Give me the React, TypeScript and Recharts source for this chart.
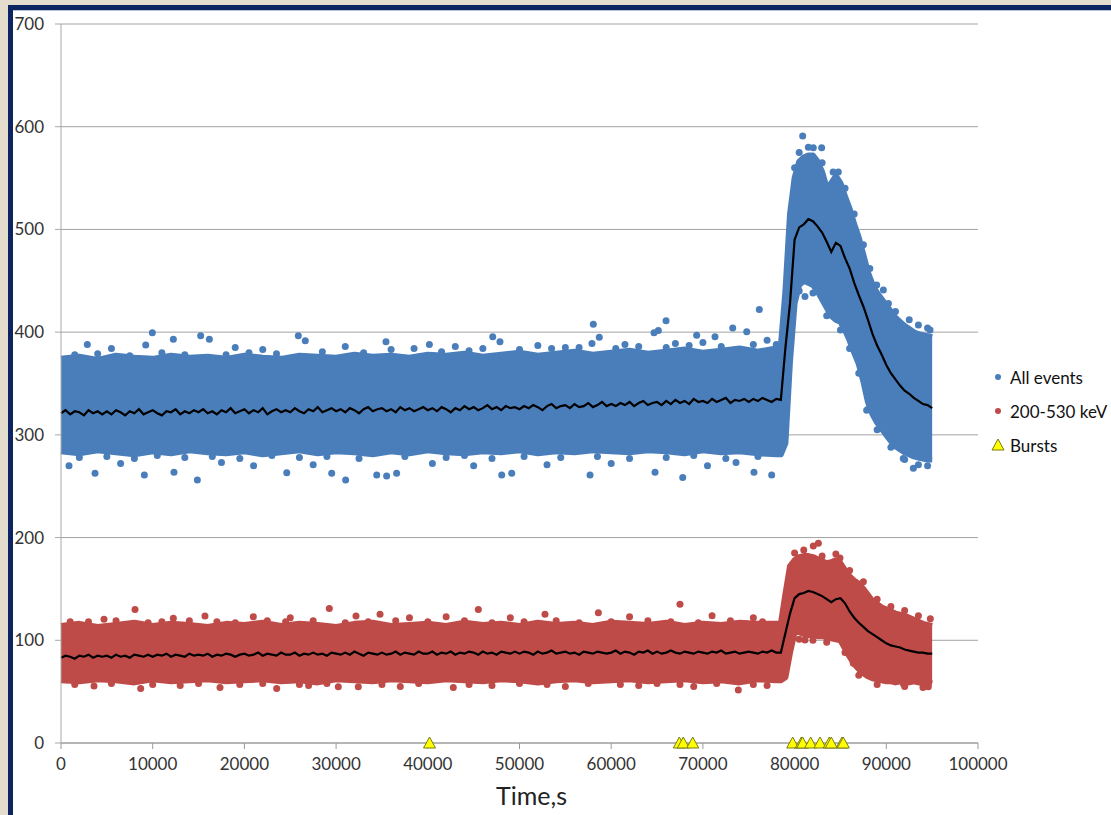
import {
  Area,
  CartesianGrid,
  ComposedChart,
  Line,
  Scatter,
  XAxis,
  YAxis,
} from "recharts"

// axis ticks
const xTicks = [0, 10000, 20000, 30000, 40000, 50000, 60000, 70000, 80000, 90000, 100000]
const yTicks = [0, 100, 200, 300, 400, 500, 600, 700]

// envelope sample times (s): 2000 s steps before the event, 500 s through it
const bandTimes = [
  0, 2000, 4000, 6000, 8000, 10000, 12000, 14000, 16000, 18000,
  20000, 22000, 24000, 26000, 28000, 30000, 32000, 34000, 36000, 38000,
  40000, 42000, 44000, 46000, 48000, 50000, 52000, 54000, 56000, 58000,
  60000, 62000, 64000, 66000, 68000, 70000, 72000, 74000, 76000, 78000,
  78500, 79000, 79500, 80000, 80500, 81000, 81500, 82000, 82500, 83000,
  83500, 84000, 84500, 85000, 85500, 86000, 86500, 87000, 87500, 88000,
  88500, 89000, 89500, 90000, 90500, 91000, 91500, 92000, 92500, 93000,
  93500, 94000, 94500, 95000,
]

// All events: bulk of the point cloud
const allHigh = [
  374, 376, 373, 377, 375, 374, 377, 375, 376, 374,
  377, 375, 374, 377, 376, 375, 378, 376, 377, 375,
  378, 377, 379, 376, 378, 380, 377, 379, 381, 378,
  380, 382, 379, 381, 383, 380, 382, 384, 381, 384,
  386, 440, 515, 550, 566, 570, 572, 572, 566, 556,
  540, 545, 552, 545, 532, 520, 505, 492, 475, 458,
  446, 438, 432, 426, 420, 414, 410, 406, 403, 400,
  398, 397, 396, 395,
]
const allLow = [
  284, 282, 285, 283, 281, 284, 282, 285, 283, 282,
  284, 281, 283, 285, 282, 284, 283, 281, 284, 282,
  285, 283, 282, 284, 283, 285, 282, 284, 283, 285,
  284, 283, 285, 284, 282, 285, 283, 284, 282, 281,
  281, 292, 372, 428, 446, 450, 448, 446, 440, 432,
  424, 416, 412, 410, 402, 392, 380, 369, 352, 332,
  320, 312, 306, 300, 294, 289, 286, 283, 281, 279,
  278, 277, 276, 276,
]

// 200-530 keV: bulk of the point cloud
const keVHigh = [
  114, 116, 113, 115, 117, 114, 116, 115, 113, 116,
  115, 117, 114, 116, 115, 113, 116, 117, 114, 115,
  116, 114, 117, 115, 116, 114, 117, 115, 116, 114,
  117, 116, 115, 117, 114, 116, 115, 117, 116, 116,
  116, 145, 172, 178, 181, 182, 182, 181, 179, 177,
  175, 176, 178, 175, 168, 162, 158, 155, 150, 144,
  138, 135, 132, 130, 128, 126, 125, 124, 122, 120,
  118, 116, 115, 114,
]
const keVLow = [
  61, 60, 62, 61, 59, 62, 60, 61, 62, 60,
  61, 62, 60, 61, 59, 62, 61, 60, 62, 61,
  60, 62, 61, 60, 62, 61, 59, 61, 62, 60,
  61, 62, 60, 61, 62, 60, 61, 59, 62, 61,
  61, 64, 88, 108, 108, 106, 105, 105, 104, 104,
  103, 102, 101, 100, 92, 84, 77, 72, 68, 65,
  63, 62, 61, 60, 60, 59, 60, 59, 59, 60,
  59, 58, 59, 58,
]

// running means, one value every 500 s from 0 to 95000 s
const MEAN_STEP = 500
const allMean = [
  321, 324, 320, 323, 322, 319, 324, 321, 323, 320,
  323, 320, 324, 322, 319, 323, 321, 325, 320, 322,
  324, 321, 319, 323, 322, 325, 320, 323, 321, 324,
  322, 325, 321, 323, 320, 324, 322, 326, 321, 323,
  325, 321, 324, 322, 326, 320, 323, 325, 322, 324,
  322, 326, 323, 321, 325, 323, 327, 322, 324, 326,
  323, 325, 322, 326, 324, 321, 325, 327, 323, 325,
  326, 323, 325, 322, 327, 324, 326, 323, 325, 327,
  324, 326, 323, 327, 325, 322, 326, 324, 328, 325,
  327, 324, 326, 329, 325, 327, 324, 328, 326, 327,
  325, 328, 326, 329, 327, 324, 328, 330, 326, 328,
  329, 326, 330, 327, 328, 331, 327, 329, 332, 328,
  330, 328, 331, 329, 332, 328, 331, 333, 329, 331,
  332, 329, 333, 330, 334, 331, 333, 330, 335, 332,
  333, 331, 335, 332, 334, 336, 331, 334, 333, 335,
  332, 335, 333, 336, 334, 332, 335,
  334, 385, 428, 490, 502, 505, 510, 508, 503, 497,
  488, 478, 487, 484, 472, 462, 448, 436, 425, 412,
  398, 387, 378, 368, 360, 354, 348, 343, 340, 336,
  333, 330, 329, 326,
]
const keVMean = [
  83, 85, 84, 82, 85, 84, 86, 83, 85, 84,
  85, 83, 86, 84, 85, 83, 86, 85, 84, 86,
  84, 86, 85, 87, 84, 86, 85, 84, 87, 85,
  86, 85, 87, 84, 86, 85, 87, 86, 84, 86,
  87, 85, 86, 88, 85, 87, 86, 85, 88, 86,
  86, 88, 85, 87, 86, 88, 86, 87, 85, 88,
  87, 86, 88, 86, 89, 87, 85, 88, 87, 86,
  88, 86, 87, 89, 86, 88, 87, 86, 89, 87,
  87, 89, 86, 88, 87, 89, 86, 88, 87, 89,
  88, 86, 89, 87, 88, 86, 89, 88, 87, 89,
  87, 89, 88, 86, 89, 87, 88, 90, 87, 88,
  89, 87, 88, 86, 89, 88, 87, 89, 88, 87,
  88, 90, 87, 89, 88, 86, 89, 88, 90, 87,
  89, 87, 88, 90, 88, 87, 89, 88, 87, 89,
  88, 87, 89, 88, 90, 87, 88, 89, 87, 88,
  89, 88, 87, 89, 88, 90, 88,
  88, 107, 126, 141, 145, 146, 148, 147, 145, 143,
  140, 137, 140, 141, 136, 128, 122, 117, 113, 109,
  106, 103, 100, 97, 95, 94, 93, 91, 90, 89,
  88, 88, 87, 87,
]

// stray points around the clouds (time s, counts)
const allOutT = [
  2870, 9240, 9960, 12250, 15230, 16180, 25880, 26640, 35440, 40170,
  47080, 47870, 57900, 58050, 58700, 64670, 65140, 65980, 69320, 71320,
  73250, 74780, 76150, 5500, 19000, 22000, 31000, 38500, 43000, 52000,
  55000, 61500, 67000, 70000, 77000,
  1500, 4000, 7500, 11000, 13500, 18000, 20500, 23500, 28500, 33000,
  36000, 41500, 44500, 46000, 50000, 53500, 56500, 60500, 63000, 66000,
  68500, 72000, 75500, 78000,
  870, 3710, 9090, 12320, 14870, 24620, 29520, 31040, 34430, 35510,
  36600, 48060, 49150, 57690, 64780, 67800, 73610, 75570, 77500, 6500,
  17500, 21000, 27500, 40500, 45000, 53000, 60000, 70500,
  2000, 5000, 8000, 10500, 13500, 16500, 19500, 23000, 26000, 29000,
  32500, 37500, 42000, 44000, 47000, 50500, 54500, 58500, 62000, 66000,
  69000, 72500, 76000,
  80880, 82040, 82950, 84770, 81130, 87860, 91850, 92950, 94770, 88950,
  89680, 90230,
  80000, 80500, 81500, 83000, 84200, 85500, 86500, 87500, 88200, 91000,
  92500, 93500, 94500,
  80500, 82000, 83500, 85000, 86000, 87000, 88000, 89000, 90500, 92000,
  93500, 94500,
]
const allOutV = [
  388, 387.5, 399.5, 393, 396.6, 393, 396.6, 391.7, 390.7, 388,
  395.6, 390.7, 389, 407.6, 395, 399.5, 401.5, 411, 397, 395.6,
  404, 400.5, 422, 384, 385, 383, 386, 384, 386, 387,
  385, 388, 389, 390, 392,
  378, 379, 377, 380, 378, 378, 380, 379, 381, 380,
  383, 381, 382, 384, 383, 384, 385, 384, 386, 385,
  387, 386, 388, 388,
  270, 262.6, 261, 263.5, 256, 263, 262.6, 256, 261, 260,
  262.6, 261, 262.6, 261, 263.5, 258.6, 273, 263.5, 261, 272,
  273, 270, 271, 272, 270, 271, 272, 270,
  278, 279, 277, 280, 278, 279, 277, 280, 278, 279,
  277, 279, 278, 280, 277, 279, 278, 279, 277, 278,
  280, 277, 279,
  591, 579.6, 579.6, 556, 434.6, 324, 277, 267.5, 402, 446,
  441, 428,
  560, 575, 580, 565, 556, 540, 515, 485, 462, 420,
  412, 407, 404,
  440, 438, 416, 402, 384, 360, 325, 305, 288, 276,
  271, 270,
]
const keVOutT = [
  4690, 8070, 12250, 15700, 20970, 29260, 32170, 34790, 45510, 52780,
  58600, 67500, 25000, 38000, 42000, 49000, 62000, 71000, 75500,
  1000, 3000, 6000, 9500, 11000, 14000, 17000, 19000, 22500, 24500,
  27500, 31000, 33500, 36500, 40000, 44000, 47000, 50500, 54000, 56500,
  60000, 64000, 66500, 69500, 73000, 76500,
  3600, 8690, 17340, 23520, 30240, 32420, 42780, 73860, 13000, 27000,
  37000, 47000, 55000, 63000, 69000, 77000,
  1500, 5500, 10000, 15000, 19500, 22000, 26000, 29000, 35000, 39000,
  44500, 50000, 53000, 57500, 61000, 65000, 67500, 71500, 75500,
  82040, 82590, 84950, 81130, 86400, 91850, 94580,
  80000, 81000, 83000, 84500, 86000, 87500, 89000, 90500, 92000, 93500,
  94800,
  80500, 82000, 83500, 85500, 87000, 89000, 92000, 94000,
]
const keVOutV = [
  120.4, 130, 121.4, 123.7, 123, 131, 123.7, 125.3, 130, 125.3,
  126.9, 135, 122, 122, 123, 122, 123, 124, 122,
  118, 118, 119, 117, 118, 119, 118, 117, 119, 118,
  119, 117, 118, 119, 118, 119, 117, 118, 119, 117,
  118, 119, 118, 117, 119, 118,
  55.5, 53, 54, 53, 54.8, 54.8, 54, 51.6, 56, 56,
  55, 56, 55, 56, 55, 56,
  57, 58, 57, 58, 57, 58, 57, 58, 57, 58,
  57, 58, 57, 58, 57, 58, 57, 58, 57,
  191.8, 194.4, 180, 100.3, 77.6, 58, 54.8,
  185, 188, 182, 184, 168, 157, 140, 133, 129, 124,
  121,
  101, 100, 98, 88, 66, 57, 55, 54,
]

// burst trigger times (s), drawn on the zero line
const burstTimes = [
  40190, 67430, 67860, 68890, 79790, 80730, 80880, 81750, 82770, 83780,
  84000, 85170, 85310,
]

const BLUE = "#4a7ebb"
const RED = "#be4b48"
const GRID = "#a3a3a3"
const FONT = "Lato, 'Open Sans', sans-serif"

const dot = (color: string) => (p: any) =>
  <circle cx={p.cx} cy={p.cy} r={3.5} fill={color} />

const triangle = (p: any) => (
  <path
    d={`M${p.cx},${p.cy - 6} L${p.cx + 6},${p.cy + 5} L${p.cx - 6},${p.cy + 5} Z`}
    fill="#ffff00"
    stroke="#7a7a14"
    strokeWidth={1}
  />
)

const legendItems = [
  { label: "All events", kind: "dot", color: BLUE },
  { label: "200-530 keV", kind: "dot", color: RED },
  { label: "Bursts", kind: "tri", color: "#ffff00" },
]

export default function App() {
  const allBand = bandTimes.map((t, i) => ({ t, range: [allLow[i], allHigh[i]] }))
  const keVBand = bandTimes.map((t, i) => ({ t, range: [keVLow[i], keVHigh[i]] }))
  const allLine = allMean.map((v, i) => ({ t: i * MEAN_STEP, v }))
  const keVLine = keVMean.map((v, i) => ({ t: i * MEAN_STEP, v }))
  const allOut = allOutT.map((t, i) => ({ t, v: allOutV[i] }))
  const keVOut = keVOutT.map((t, i) => ({ t, v: keVOutV[i] }))
  const bursts = burstTimes.map((t) => ({ t, v: 0 }))

  return (
    <div
      style={{
        position: "absolute",
        left: 0,
        top: 0,
        width: 1111,
        height: 815,
        overflow: "hidden",
        background: "#e4dccd",
        fontFamily: FONT,
      }}
    >
      {/* slide frame */}
      <div
        style={{
          position: "absolute",
          left: 8,
          top: 5,
          right: 0,
          bottom: 0,
          background: "#ffffff",
          borderLeft: "5px solid #0c2462",
          borderTop: "5px solid #0c2462",
        }}
      />
      <div style={{ position: "absolute", left: 13, top: 10, right: 0, height: 1, background: "#b9c3d6" }} />

      <div style={{ position: "absolute", left: 13, top: 10 }}>
        <ComposedChart
          width={1098}
          height={805}
          margin={{ top: 14, right: 133, bottom: 12, left: 0 }}
        >
          <CartesianGrid horizontal vertical={false} stroke={GRID} strokeWidth={1} />
          <XAxis
            dataKey="t"
            type="number"
            domain={[0, 100000]}
            ticks={xTicks}
            interval={0}
            height={60}
            stroke="#9a9a9a"
            tickSize={6}
            tickMargin={9}
            tick={{ fill: "#333333", fontSize: 17, fontFamily: FONT }}
            label={{
              value: "Time,s",
              position: "insideBottom",
              offset: -2,
              dx: 12,
              fill: "#222222",
              fontSize: 25,
              fontFamily: FONT,
            }}
          />
          <YAxis
            type="number"
            domain={[0, 700]}
            ticks={yTicks}
            interval={0}
            width={48}
            stroke="#a8a8a8"
            tickSize={6}
            tickMargin={11}
            tick={{ fill: "#333333", fontSize: 17, fontFamily: FONT }}
          />

          <Area
            data={allBand}
            dataKey="range"
            type="linear"
            stroke={BLUE}
            strokeWidth={6}
            strokeLinejoin="round"
            fill={BLUE}
            fillOpacity={1}
            dot={false}
            activeDot={false}
            isAnimationActive={false}
          />
          <Scatter data={allOut} dataKey="v" shape={dot(BLUE)} isAnimationActive={false} />

          <Area
            data={keVBand}
            dataKey="range"
            type="linear"
            stroke={RED}
            strokeWidth={6}
            strokeLinejoin="round"
            fill={RED}
            fillOpacity={1}
            dot={false}
            activeDot={false}
            isAnimationActive={false}
          />
          <Scatter data={keVOut} dataKey="v" shape={dot(RED)} isAnimationActive={false} />

          <Line
            data={allLine}
            dataKey="v"
            type="linear"
            stroke="#000000"
            strokeWidth={2.2}
            dot={false}
            activeDot={false}
            isAnimationActive={false}
          />
          <Line
            data={keVLine}
            dataKey="v"
            type="linear"
            stroke="#000000"
            strokeWidth={2.2}
            dot={false}
            activeDot={false}
            isAnimationActive={false}
          />

          <Scatter data={bursts} dataKey="v" shape={triangle} isAnimationActive={false} />
        </ComposedChart>
      </div>

      {/* legend */}
      {legendItems.map((item, i) => (
        <div
          key={item.label}
          style={{
            position: "absolute",
            left: 990,
            top: 366 + i * 34,
            height: 22,
            display: "flex",
            alignItems: "center",
            fontSize: 17,
            color: "#111111",
            whiteSpace: "nowrap",
          }}
        >
          <svg width={18} height={22}>
            {item.kind === "dot" ? (
              <circle cx={8} cy={11} r={3} fill={item.color} />
            ) : (
              <path d="M8,5 L14,16 L2,16 Z" fill={item.color} stroke="#7a7a14" strokeWidth={1} />
            )}
          </svg>
          <span style={{ marginLeft: 2 }}>{item.label}</span>
        </div>
      ))}
    </div>
  )
}
